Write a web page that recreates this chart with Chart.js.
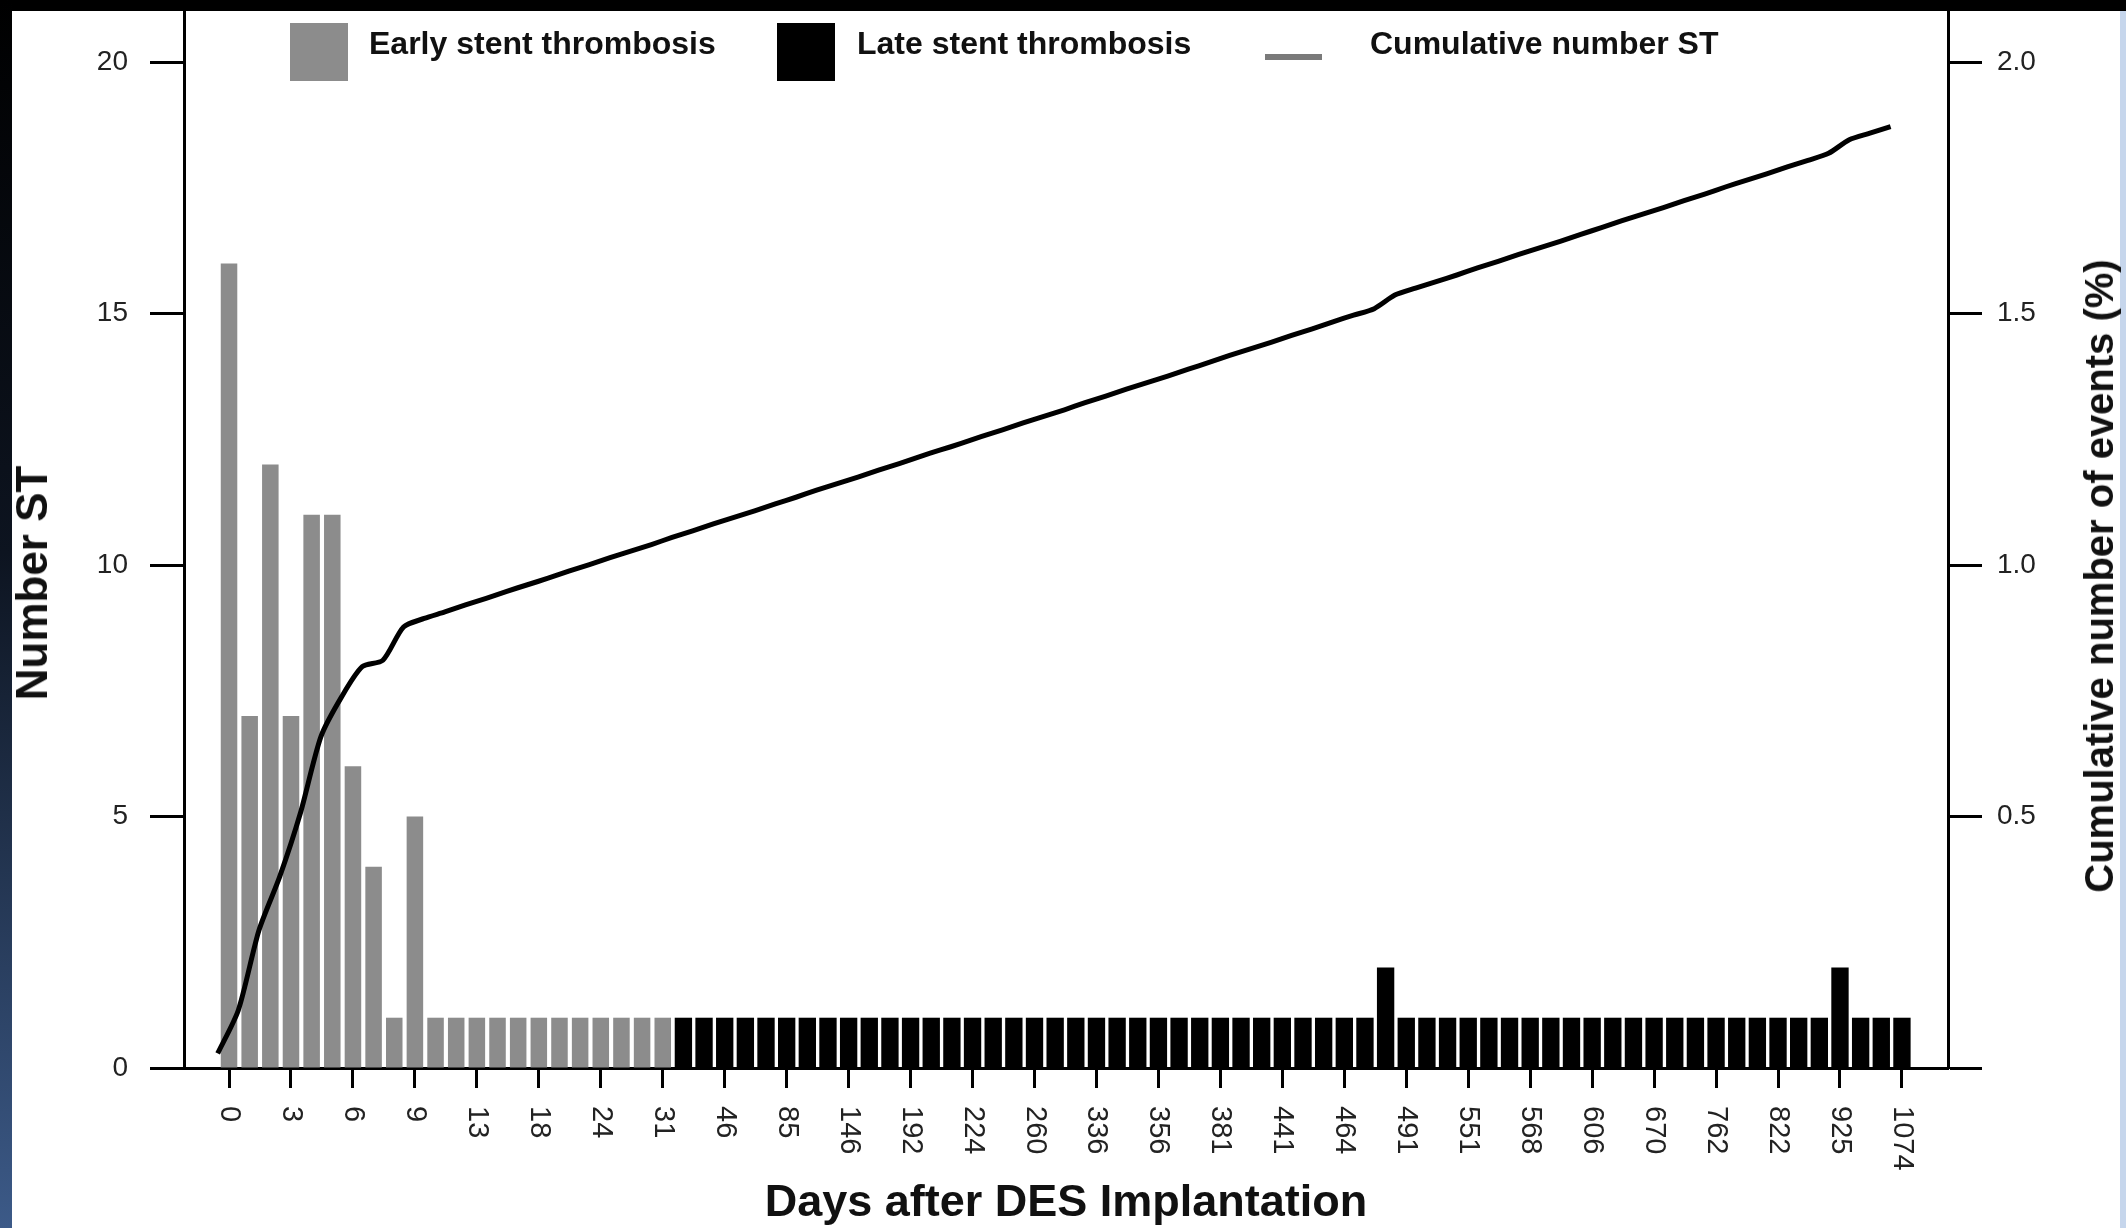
<!DOCTYPE html>
<html>
<head>
<meta charset="utf-8">
<title>Stent thrombosis after DES implantation</title>
<script src="https://cdn.jsdelivr.net/npm/chart.js@4.4.1/dist/chart.umd.min.js"></script>
<style>
  body { margin: 0; background: #fff; }
  #wrap { position: relative; width: 2126px; height: 1228px; background: #fff; overflow: hidden;
          font-family: "Liberation Sans", Arial, sans-serif; }
  #chart { position: absolute; left: 0; top: 0; }
  .abs { position: absolute; }
  .legend-text { font-weight: bold; font-size: 32px; line-height: 33px; color: #111; white-space: nowrap; }
  .ytitle { font-weight: bold; color: #111; white-space: nowrap; line-height: 1;
            transform: translate(-50%, -50%) rotate(-90deg); }
</style>
</head>
<body>
<div id="wrap">
  <canvas id="chart" width="2126" height="1228"></canvas>

  <!-- dark frame of the original slide -->
  <div class="abs" style="left:0;top:0;width:2126px;height:11px;background:#000"></div>
  <div class="abs" style="left:0;top:0;width:12px;height:1228px;background:linear-gradient(#000 0%, #0d1420 45%, #3c5a88 100%)"></div>
  <div class="abs" style="right:0;top:11px;width:6px;height:1217px;background:#c6d6ec"></div>

  <!-- legend -->
  <div class="abs" style="left:290px;top:23px;width:58px;height:58px;background:#8c8c8c"></div>
  <div class="abs legend-text" style="left:369px;top:27px">Early stent thrombosis</div>
  <div class="abs" style="left:777px;top:23px;width:58px;height:58px;background:#000"></div>
  <div class="abs legend-text" style="left:857px;top:27px">Late stent thrombosis</div>
  <div class="abs" style="left:1265px;top:54px;width:57px;height:6px;background:#7a7a7a"></div>
  <div class="abs legend-text" style="left:1370px;top:27px">Cumulative number ST</div>

  <!-- axis titles -->
  <div class="abs ytitle" style="left:32px;top:583px;font-size:44px">Number ST</div>
  <div class="abs ytitle" style="left:2099px;top:576px;font-size:40px">Cumulative number of events (%)</div>
</div>

<script>
var dayLabels, earlyCounts, lateCounts, cumulativePct, leftTicks, rightTicks;
var chart, xTickLabels, i, earlyPoints, latePoints, cumPoints, noPadding;

// tick labels under every third bar (days after implantation)
dayLabels = ["0", "3", "6", "9", "13", "18", "24", "31", "46", "85", "146", "192", "224", "260",
  "336", "356", "381", "441", "464", "491", "551", "568", "606", "670", "762", "822", "925", "1074"];

// number of ST per bar, early bars first then late bars
earlyCounts = [16, 7, 12, 7, 11, 11, 6, 4, 1, 5, 1, 1, 1, 1, 1, 1, 1, 1, 1, 1, 1, 1];
lateCounts = [1, 1, 1, 1, 1, 1, 1, 1, 1, 1, 1, 1, 1, 1, 1, 1, 1, 1, 1, 1,
  1, 1, 1, 1, 1, 1, 1, 1, 1, 1, 1, 1, 1, 1, 2, 1, 1, 1, 1, 1,
  1, 1, 1, 1, 1, 1, 1, 1, 1, 1, 1, 1, 1, 1, 1, 1, 2, 1, 1, 1];

// cumulative number of events (%)
cumulativePct = [0.029, 0.115, 0.274, 0.380, 0.506, 0.659, 0.738, 0.798, 0.811, 0.877,
  0.894, 0.907, 0.921, 0.934, 0.948, 0.961, 0.974, 0.988, 1.001, 1.015,
  1.028, 1.041, 1.055, 1.068, 1.082, 1.095, 1.108, 1.122, 1.135, 1.149,
  1.162, 1.175, 1.189, 1.202, 1.216, 1.229, 1.242, 1.256, 1.269, 1.283,
  1.296, 1.309, 1.323, 1.336, 1.350, 1.363, 1.376, 1.390, 1.403, 1.417,
  1.430, 1.443, 1.457, 1.470, 1.484, 1.497, 1.510, 1.537, 1.551, 1.564,
  1.577, 1.591, 1.604, 1.618, 1.631, 1.644, 1.658, 1.671, 1.685, 1.698,
  1.711, 1.725, 1.738, 1.752, 1.765, 1.778, 1.792, 1.805, 1.819, 1.846,
  1.859, 1.872];

leftTicks = [0, 5, 10, 15, 20];
rightTicks = [0, 0.5, 1, 1.5, 2];

earlyPoints = [];
for (i = 0; i < earlyCounts.length; i++) {
  earlyPoints.push({x: i, y: earlyCounts[i]});
}
latePoints = [];
for (i = 0; i < lateCounts.length; i++) {
  latePoints.push({x: earlyCounts.length + i, y: lateCounts[i]});
}
// the curve sits half a bar to the left of the bars
cumPoints = [];
for (i = 0; i < cumulativePct.length; i++) {
  cumPoints.push({x: i - 0.55, y: cumulativePct[i]});
}

noPadding = function(scale) {
  scale.paddingTop = 0;
  scale.paddingBottom = 0;
  scale.paddingLeft = 0;
  scale.paddingRight = 0;
};

// x labels are read top-to-bottom (rotated clockwise), which Chart.js can't do itself
xTickLabels = {
  id: "xTickLabels",
  afterDraw: function(c) {
    var scale = c.scales.x, ctx = c.ctx;
    ctx.save();
    ctx.font = "29px 'Liberation Sans', Arial, sans-serif";
    ctx.fillStyle = "#222";
    ctx.textAlign = "left";
    ctx.textBaseline = "middle";
    scale.ticks.forEach(function(t) {
      var px = scale.getPixelForValue(t.value);
      ctx.save();
      ctx.translate(px, scale.top + 38);
      ctx.rotate(Math.PI / 2);
      ctx.fillText(dayLabels[Math.round(t.value / 3)], 0, 0);
      ctx.restore();
    });
    ctx.restore();
  }
};

Chart.defaults.font.family = "'Liberation Sans', Arial, sans-serif";

chart = new Chart(document.getElementById("chart"), {
  type: "bar",
  data: {
    datasets: [
      {
        type: "line",
        label: "Cumulative number ST",
        data: cumPoints,
        yAxisID: "y1",
        borderColor: "#000",
        borderWidth: 5,
        pointRadius: 0,
        tension: 0.25,
        order: 0
      },
      {
        label: "Early stent thrombosis",
        data: earlyPoints,
        backgroundColor: "#8c8c8c",
        grouped: false,
        categoryPercentage: 1,
        barPercentage: 0.8,
        order: 1
      },
      {
        label: "Late stent thrombosis",
        data: latePoints,
        backgroundColor: "#000",
        grouped: false,
        categoryPercentage: 1,
        barPercentage: 0.84,
        order: 1
      }
    ]
  },
  options: {
    responsive: false,
    animation: false,
    layout: { padding: { top: 12, left: 0, right: 0, bottom: 0 } },
    plugins: {
      legend: { display: false },
      tooltip: { enabled: false }
    },
    scales: {
      x: {
        type: "linear",
        offset: false,
        min: -2.18,
        max: 83.23,
        afterBuildTicks: function(scale) {
          scale.ticks = dayLabels.map(function(d, k) { return {value: k * 3}; });
        },
        afterFit: function(scale) { scale.height = 160; noPadding(scale); },
        ticks: { display: false },
        grid: { offset: false, drawOnChartArea: false, drawTicks: true, tickLength: 20, tickWidth: 3, tickColor: "#000" },
        border: { display: true, color: "#000", width: 3 },
        title: {
          display: true,
          text: "Days after DES Implantation",
          color: "#111",
          font: { size: 45, weight: "bold", lineHeight: 1.1 },
          padding: { top: 0, bottom: 0 }
        }
      },
      y: {
        position: "left",
        min: 0,
        max: 21,
        afterBuildTicks: function(scale) {
          scale.ticks = leftTicks.map(function(v) { return {value: v}; });
        },
        afterFit: function(scale) { scale.width = 184; noPadding(scale); },
        ticks: { color: "#222", font: { size: 28 }, padding: 22 },
        grid: { drawOnChartArea: false, drawTicks: true, tickLength: 34, tickWidth: 3, tickColor: "#000" },
        border: { display: true, color: "#000", width: 3 }
      },
      y1: {
        position: "right",
        min: 0,
        max: 2.1,
        afterBuildTicks: function(scale) {
          scale.ticks = rightTicks.map(function(v) { return {value: v}; });
        },
        afterFit: function(scale) { scale.width = 178; noPadding(scale); },
        ticks: {
          color: "#222",
          font: { size: 28 },
          padding: 15,
          callback: function(v) { return v === 0 ? "" : v.toFixed(1); }
        },
        grid: { drawOnChartArea: false, drawTicks: true, tickLength: 34, tickWidth: 3, tickColor: "#000" },
        border: { display: true, color: "#000", width: 3 }
      }
    }
  },
  plugins: [xTickLabels]
});
</script>
</body>
</html>
